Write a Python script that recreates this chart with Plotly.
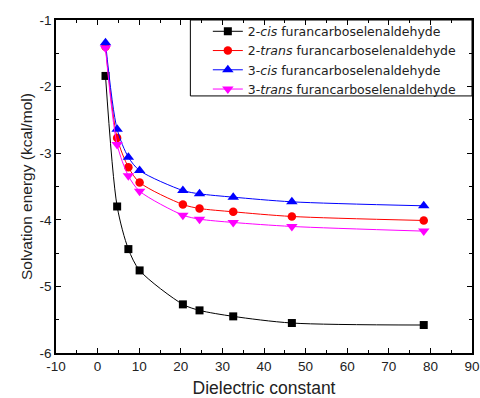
import plotly.graph_objects as go

dielectric = [1.9, 4.7, 7.4, 10.1, 20.5, 24.5, 32.6, 46.7, 78.4]
cis2 = [-1.84, -3.80, -4.44, -4.76, -5.27, -5.36, -5.45, -5.55, -5.58]
trans2 = [-1.40, -2.77, -3.21, -3.44, -3.77, -3.83, -3.88, -3.95, -4.01]
cis3 = [-1.34, -2.64, -3.06, -3.26, -3.56, -3.61, -3.66, -3.73, -3.79]
trans3 = [-1.42, -2.87, -3.34, -3.57, -3.93, -3.99, -4.04, -4.10, -4.17]

x_tickvals = [-10, 0, 10, 20, 30, 40, 50, 60, 70, 80, 90]
x_ticktext = ["-10", "0", "10", "20", "30", "40", "50", "60", "70", "80", "90"]
y_tickvals = [-6, -5, -4, -3, -2, -1]
y_ticktext = ["-6", "-5", "-4", "-3", "-2", "-1"]

names = ["2-<i>cis</i> furancarboselenaldehyde",
         "2-<i>trans</i> furancarboselenaldehyde",
         "3-<i>cis</i> furancarboselenaldehyde",
         "3-<i>trans</i> furancarboselenaldehyde"]
series = [cis2, trans2, cis3, trans3]
colors = ["#000000", "#ff0000", "#0000ff", "#ff00ff"]
symbols = ["square", "circle", "triangle-up", "triangle-down"]
sizes = [8, 8.5, 10, 10]

fig = go.Figure()
for n, s, c, sym, sz in zip(names, series, colors, symbols, sizes):
    fig.add_trace(go.Scatter(
        x=dielectric, y=s, name=n, mode="lines+markers",
        line=dict(color=c, width=1, shape="spline", smoothing=0.8),
        marker=dict(symbol=sym, size=sz, color=c),
    ))

axis_common = dict(
    showline=True, linecolor="black", linewidth=1.5, mirror="allticks",
    ticks="inside", ticklen=5, tickwidth=1, tickcolor="black",
    showgrid=False, zeroline=False, automargin=False,
    tickfont=dict(size=13.5, color="#222"),
)
fig.update_xaxes(range=[-10, 90], tickmode="array", tickvals=x_tickvals, ticktext=x_ticktext,
                 minor=dict(ticks="inside", ticklen=3, dtick=5, tick0=-10, tickcolor="black"),
                 title=dict(text="Dielectric constant", font=dict(size=17.5, color="#222"), standoff=22),
                 **axis_common)
fig.update_yaxes(range=[-6, -1], tickmode="array", tickvals=y_tickvals, ticktext=y_ticktext,
                 minor=dict(ticks="inside", ticklen=3, dtick=0.5, tick0=-6, tickcolor="black"),
                 title=dict(text="Solvation energy (kcal/mol)", font=dict(size=15.5, color="#222"), standoff=3),
                 **axis_common)

# legend frame
fig.add_shape(type="rect", xref="paper", yref="paper",
              x0=0.323, x1=1.0, y0=0.772, y1=1.0,
              line=dict(color="black", width=1), fillcolor="rgba(0,0,0,0)", layer="above")

fig.update_layout(
    width=480, height=398,
    margin=dict(l=56, r=8, t=20, b=45),
    paper_bgcolor="white", plot_bgcolor="white",
    font=dict(family="Liberation Sans, Arial, sans-serif", color="#222"),
    legend=dict(x=0.365, y=1.01, xanchor="left", yanchor="top",
                borderwidth=0, bgcolor="rgba(0,0,0,0)",
                font=dict(size=12.5, family="DejaVu Sans"), tracegroupgap=0, itemwidth=30),
    showlegend=True,
)
fig.write_html("out.html", config={"displayModeBar": False},
               post_script="document.body.style.margin='0';")
